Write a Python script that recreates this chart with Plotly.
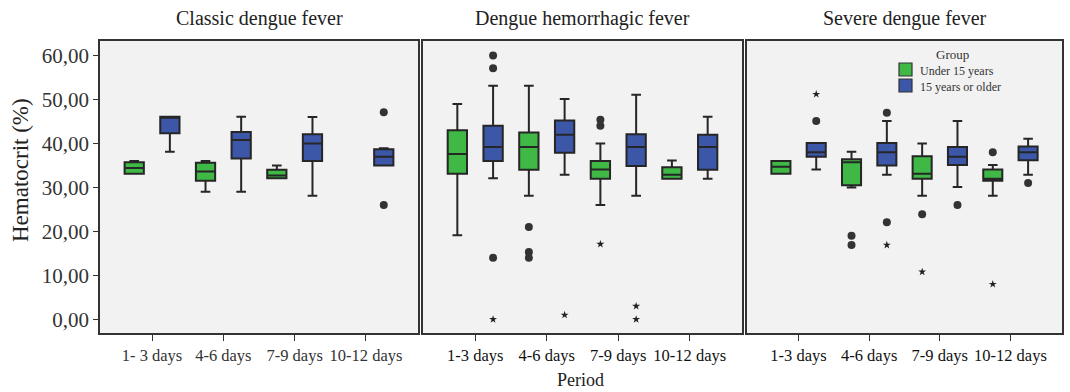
import plotly.graph_objects as go

W, H = 1070, 392

panel_titles = ["Classic dengue fever", "Dengue hemorrhagic fever", "Severe dengue fever"]
tick_labels_p1 = ["1- 3 days", "4-6 days", "7-9 days", "10-12 days"]
tick_labels = ["1-3 days", "4-6 days", "7-9 days", "10-12 days"]
groups = ["Under 15 years", "15 years or older"]
y_ticks = [0, 10, 20, 30, 40, 50, 60]
y_tick_text = ["0,00", "10,00", "20,00", "30,00", "40,00", "50,00", "60,00"]

# ---- Classic dengue fever ----
cdf_u15_q1 = [33.1, 31.5, 32.1, None]
cdf_u15_med = [34.4, 33.6, 32.7, None]
cdf_u15_q3 = [35.7, 35.6, 34.0, None]
cdf_u15_lo = [33.1, 29.0, 32.1, None]
cdf_u15_hi = [36.0, 36.0, 35.0, None]
cdf_u15_circ = []
cdf_u15_star = []

cdf_o15_q1 = [42.3, 36.6, 36.0, 35.0]
cdf_o15_med = [46.1, 40.8, 40.0, 37.0]
cdf_o15_q3 = [46.1, 42.6, 42.1, 38.7]
cdf_o15_lo = [38.1, 29.0, 28.1, 35.0]
cdf_o15_hi = [46.1, 46.1, 46.0, 38.9]
cdf_o15_circ = [(3, 47.1), (3, 26.0)]
cdf_o15_star = []

# ---- Dengue hemorrhagic fever ----
dhf_u15_q1 = [33.1, 34.0, 32.0, 32.0]
dhf_u15_med = [37.6, 39.2, 34.1, 32.9]
dhf_u15_q3 = [43.0, 42.5, 36.0, 34.6]
dhf_u15_lo = [19.1, 28.1, 26.0, 32.0]
dhf_u15_hi = [49.0, 53.1, 40.0, 36.1]
dhf_u15_circ = [(1, 21.0), (1, 15.3), (1, 14.0), (2, 45.4), (2, 44.0)]
dhf_u15_star = [(2, 17.1)]

dhf_o15_q1 = [36.0, 37.9, 34.9, 34.0]
dhf_o15_med = [39.2, 42.0, 39.2, 39.2]
dhf_o15_q3 = [44.0, 45.2, 42.1, 42.0]
dhf_o15_lo = [32.1, 32.9, 28.1, 32.0]
dhf_o15_hi = [53.1, 50.1, 51.1, 46.1]
dhf_o15_circ = [(0, 60.0), (0, 57.1), (0, 14.0)]
dhf_o15_star = [(0, 0.0), (1, 1.0), (2, 3.0), (2, 0.0)]

# ---- Severe dengue fever ----
sdf_u15_q1 = [33.1, 30.5, 32.0, 31.5]
sdf_u15_med = [34.7, 35.7, 33.1, 32.0]
sdf_u15_q3 = [36.0, 36.4, 37.1, 34.1]
sdf_u15_lo = [33.1, 30.0, 28.1, 28.1]
sdf_u15_hi = [36.0, 38.1, 40.0, 35.1]
sdf_u15_circ = [(1, 19.0), (1, 16.9), (2, 23.9), (3, 38.0)]
sdf_u15_star = [(2, 10.8), (3, 8.0)]

sdf_o15_q1 = [37.0, 35.0, 35.1, 36.2]
sdf_o15_med = [38.0, 38.0, 37.0, 38.0]
sdf_o15_q3 = [40.1, 40.1, 39.2, 39.3]
sdf_o15_lo = [34.1, 32.9, 30.1, 32.9]
sdf_o15_hi = [40.1, 45.1, 45.1, 41.1]
sdf_o15_circ = [(0, 45.1), (1, 47.0), (1, 22.1), (2, 26.0), (3, 31.0)]
sdf_o15_star = [(0, 51.2), (1, 16.9)]

panels = [
    [(cdf_u15_q1, cdf_u15_med, cdf_u15_q3, cdf_u15_lo, cdf_u15_hi, cdf_u15_circ, cdf_u15_star),
     (cdf_o15_q1, cdf_o15_med, cdf_o15_q3, cdf_o15_lo, cdf_o15_hi, cdf_o15_circ, cdf_o15_star)],
    [(dhf_u15_q1, dhf_u15_med, dhf_u15_q3, dhf_u15_lo, dhf_u15_hi, dhf_u15_circ, dhf_u15_star),
     (dhf_o15_q1, dhf_o15_med, dhf_o15_q3, dhf_o15_lo, dhf_o15_hi, dhf_o15_circ, dhf_o15_star)],
    [(sdf_u15_q1, sdf_u15_med, sdf_u15_q3, sdf_u15_lo, sdf_u15_hi, sdf_u15_circ, sdf_u15_star),
     (sdf_o15_q1, sdf_o15_med, sdf_o15_q3, sdf_o15_lo, sdf_o15_hi, sdf_o15_circ, sdf_o15_star)],
]

colors = ["#3fb846", "#3c56a8"]
offsets = [-0.25, 0.25]
FONT = "Liberation Serif, Times New Roman, serif"

# pixel layout
px_x = [(100, 418), (423, 742), (747, 1062)]
py_top, py_bot = 41, 333
ydom = [1 - py_bot / H, 1 - py_top / H]

fig = go.Figure()

for p, pdata in enumerate(panels):
    xa = "x" if p == 0 else f"x{p+1}"
    ya = "y" if p == 0 else f"y{p+1}"
    for g, (q1, med, q3, lo, hi, circ, star) in enumerate(pdata):
        idx = [i for i in range(4) if q1[i] is not None]
        fig.add_trace(go.Box(
            x=[i + offsets[g] for i in idx],
            q1=[q1[i] for i in idx], median=[med[i] for i in idx], q3=[q3[i] for i in idx],
            lowerfence=[lo[i] for i in idx], upperfence=[hi[i] for i in idx],
            width=0.27, whiskerwidth=0.5, boxpoints=False,
            fillcolor=colors[g], line=dict(color="#262626", width=2),
            showlegend=False, hoverinfo="skip", xaxis=xa, yaxis=ya))
        if circ:
            fig.add_trace(go.Scatter(
                x=[c[0] + offsets[g] for c in circ], y=[c[1] for c in circ],
                mode="markers", marker=dict(symbol="circle", size=8, color="#333333"),
                showlegend=False, hoverinfo="skip", xaxis=xa, yaxis=ya))
        if star:
            fig.add_trace(go.Scatter(
                x=[c[0] + offsets[g] for c in star], y=[c[1] for c in star],
                mode="markers", marker=dict(symbol="star", size=6, color="#222222"),
                showlegend=False, hoverinfo="skip", xaxis=xa, yaxis=ya))

layout = dict(
    width=W, height=H, margin=dict(l=0, r=0, t=0, b=0),
    paper_bgcolor="white", plot_bgcolor="#f2f2f2",
    font=dict(family=FONT, color="#222222"),
    showlegend=False,
)
for p in range(3):
    xk = "xaxis" if p == 0 else f"xaxis{p+1}"
    yk = "yaxis" if p == 0 else f"yaxis{p+1}"
    x0, x1 = px_x[p]
    layout[xk] = dict(
        domain=[x0 / W, x1 / W], range=[-0.73, 3.73],
        tickvals=[0, 1, 2, 3], ticktext=tick_labels_p1 if p == 0 else tick_labels,
        tickangle=0,
        ticks="outside", ticklen=6, tickcolor="#333333", tickwidth=1.2,
        tickfont=dict(family=FONT, size=16.5, color="#333333" if p == 0 else "#111111"),
        showline=True, mirror=True, linecolor="#333333", linewidth=1.5,
        showgrid=False, zeroline=False, automargin=False,
        anchor="y" if p == 0 else f"y{p+1}",
    )
    layout[yk] = dict(
        domain=ydom, range=[-3.1, 63.3],
        tickvals=y_ticks, ticktext=y_tick_text,
        ticks="outside" if p == 0 else "", ticklen=5, tickcolor="#333333",
        showticklabels=(p == 0),
        tickfont=dict(family=FONT, size=21, color="#333333"),
        showline=True, mirror=True, linecolor="#333333", linewidth=1.5,
        showgrid=False, zeroline=False, automargin=False,
        anchor="x" if p == 0 else f"x{p+1}",
    )
fig.update_layout(**layout)

annotations = []
for p in range(3):
    x0, x1 = px_x[p]
    annotations.append(dict(text=panel_titles[p], x=(x0 + x1) / 2 / W, y=1 - 18 / H,
                            xref="paper", yref="paper", showarrow=False,
                            xanchor="center", yanchor="middle",
                            font=dict(family=FONT, size=20, color="#222222")))
annotations.append(dict(text="Hematocrit (%)", x=20 / W, y=1 - 170 / H, xref="paper", yref="paper",
                        xanchor="center", yanchor="middle",
                        showarrow=False, textangle=-90, font=dict(family=FONT, size=23, color="#222222")))
annotations.append(dict(text="Period", x=580 / W, y=1 - 380 / H, xref="paper", yref="paper",
                        xanchor="center", yanchor="middle",
                        showarrow=False, font=dict(family=FONT, size=18, color="#222222")))

# legend (inside third panel)
annotations.append(dict(text="Group", x=952 / W, y=1 - 55 / H, xref="paper", yref="paper",
                        xanchor="center", yanchor="middle",
                        showarrow=False, font=dict(family=FONT, size=13, color="#333333")))
shapes = []
for g, name in enumerate(groups):
    top = 63 + g * 16
    shapes.append(dict(type="rect", xref="paper", yref="paper",
                       x0=899 / W, x1=912 / W, y0=1 - (top + 13) / H, y1=1 - top / H,
                       fillcolor=colors[g], line=dict(color="#333333", width=1.2)))
    annotations.append(dict(text=name, x=918 / W, y=1 - (top + 8) / H, xref="paper", yref="paper",
                            xanchor="left", yanchor="middle", showarrow=False,
                            font=dict(family=FONT, size=12, color="#333333")))
fig.update_layout(annotations=annotations, shapes=shapes)

fig.write_html("out.html")
